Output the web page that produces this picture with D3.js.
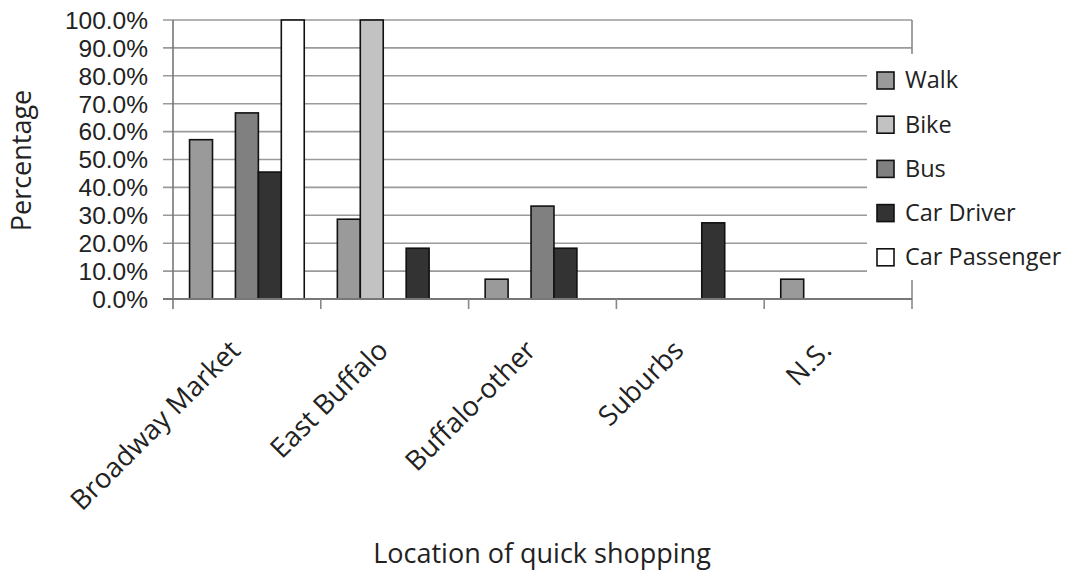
<!DOCTYPE html>
<html>
<head>
<meta charset="utf-8">
<script src="https://cdn.jsdelivr.net/npm/d3@7"></script>
<style>
  body { margin: 0; background: #fff; }
  text { font-family: "Open Sans", sans-serif; fill: #222; }
</style>
</head>
<body>
<div id="chart"></div>
<script>
const categories = ["Broadway Market", "East Buffalo", "Buffalo-other", "Suburbs", "N.S."];
const modes = ["Walk", "Bike", "Bus", "Car Driver", "Car Passenger"];
const modeColors = ["#9a9a9a", "#c2c2c2", "#808080", "#333333", "#ffffff"];

// percentage per category, one array per mode
const walk = [57.1, 28.6, 7.1, 0, 7.1];
const bike = [0, 100, 0, 0, 0];
const bus = [66.7, 0, 33.3, 0, 0];
const carDriver = [45.5, 18.2, 18.2, 27.3, 0];
const carPassenger = [100, 0, 0, 0, 0];
const seriesValues = [walk, bike, bus, carDriver, carPassenger];

const yTicks = [0, 10, 20, 30, 40, 50, 60, 70, 80, 90, 100];

const width = 1068;
const height = 573;
const plot = { left: 173, right: 912, top: 20, bottom: 299 };

const svg = d3
  .select("#chart")
  .append("svg")
  .attr("width", width)
  .attr("height", height);

const x0 = d3
  .scaleBand()
  .domain(categories)
  .range([plot.left, plot.right])
  .padding(0);

const x1 = d3
  .scaleBand()
  .domain(modes)
  .range([x0.bandwidth() * 0.112, x0.bandwidth() * 0.888])
  .padding(0);

const y = d3.scaleLinear().domain([0, 100]).range([plot.bottom, plot.top]);

// gridlines + y ticks
svg
  .append("g")
  .selectAll("line")
  .data(yTicks.filter((t) => t > 0))
  .join("line")
  .attr("x1", plot.left - 10)
  .attr("x2", plot.right)
  .attr("y1", (d) => y(d))
  .attr("y2", (d) => y(d))
  .attr("stroke", "#9a9a9a")
  .attr("stroke-width", 1.6);

// right edge of plot
svg
  .append("line")
  .attr("x1", plot.right)
  .attr("x2", plot.right)
  .attr("y1", plot.top)
  .attr("y2", plot.bottom + 10)
  .attr("stroke", "#8a8a8a")
  .attr("stroke-width", 1.6);

// bars
const groups = svg
  .append("g")
  .selectAll("g")
  .data(categories)
  .join("g")
  .attr("transform", (d) => `translate(${x0(d)},0)`);

groups
  .selectAll("rect")
  .data((c, ci) =>
    modes.map((m, mi) => ({ mode: m, idx: mi, value: seriesValues[mi][ci] }))
  )
  .join("rect")
  .filter((d) => d.value > 0)
  .attr("x", (d) => x1(d.mode))
  .attr("y", (d) => y(d.value))
  .attr("width", x1.bandwidth())
  .attr("height", (d) => y(0) - y(d.value))
  .attr("fill", (d) => modeColors[d.idx])
  .attr("stroke", "#111")
  .attr("stroke-width", 1.6);

// axes
svg
  .append("line")
  .attr("x1", plot.left)
  .attr("x2", plot.left)
  .attr("y1", plot.top)
  .attr("y2", plot.bottom + 10)
  .attr("stroke", "#777")
  .attr("stroke-width", 1.6);

svg
  .append("line")
  .attr("x1", plot.left - 10)
  .attr("x2", plot.right)
  .attr("y1", plot.bottom)
  .attr("y2", plot.bottom)
  .attr("stroke", "#777")
  .attr("stroke-width", 1.8);

// x category ticks
svg
  .append("g")
  .selectAll("line")
  .data(categories.slice(1))
  .join("line")
  .attr("x1", (d) => x0(d))
  .attr("x2", (d) => x0(d))
  .attr("y1", plot.bottom)
  .attr("y2", plot.bottom + 10)
  .attr("stroke", "#888")
  .attr("stroke-width", 1.6);

// y tick labels (tighter font so rows don't collide)
svg
  .append("g")
  .selectAll("text")
  .data(yTicks)
  .join("text")
  .attr("x", plot.left - 25)
  .attr("y", (d) => y(d))
  .attr("dy", "0.36em")
  .attr("text-anchor", "end")
  .style("font-family", "'Liberation Sans', sans-serif")
  .style("font-size", "24.5px")
  .text((d) => d.toFixed(1) + "%");

// category labels
svg
  .append("g")
  .selectAll("text")
  .data(categories)
  .join("text")
  .attr("text-anchor", "end")
  .style("font-size", "27.5px")
  .attr("transform", (d) => {
    const cx = x0(d) + x0.bandwidth() / 2 - 5;
    return `translate(${cx},${plot.bottom + 53}) rotate(-45)`;
  })
  .text((d) => d);

// axis titles
svg
  .append("text")
  .attr("transform", `translate(31,${(plot.top + plot.bottom) / 2 + 1}) rotate(-90)`)
  .attr("text-anchor", "middle")
  .style("font-size", "27px")
  .text("Percentage");

svg
  .append("text")
  .attr("x", 542)
  .attr("y", 563)
  .attr("text-anchor", "middle")
  .style("font-size", "27px")
  .text("Location of quick shopping");

// legend
const legend = svg.append("g");
legend
  .append("rect")
  .attr("x", 867)
  .attr("y", 54)
  .attr("width", width - 867)
  .attr("height", 226)
  .attr("fill", "#fff");

const legendItems = legend
  .selectAll("g")
  .data(modes)
  .join("g")
  .attr("transform", (d, i) => `translate(877,${80 + i * 44.2})`);

legendItems
  .append("rect")
  .attr("x", 0)
  .attr("y", -8)
  .attr("width", 17)
  .attr("height", 17)
  .attr("fill", (d, i) => modeColors[i])
  .attr("stroke", "#111")
  .attr("stroke-width", 1.6);

legendItems
  .append("text")
  .attr("x", 28)
  .attr("y", 0)
  .attr("dy", "0.36em")
  .style("font-size", "23.5px")
  .text((d) => d);
</script>
</body>
</html>
